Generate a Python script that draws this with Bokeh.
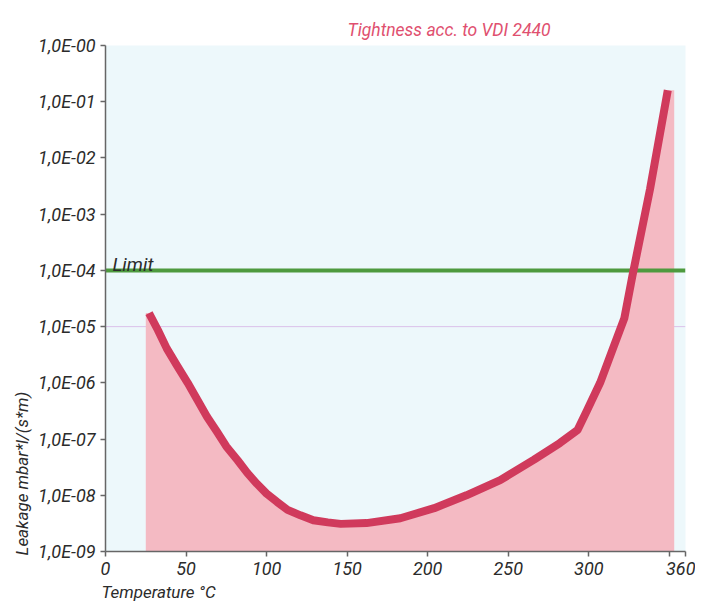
from bokeh.plotting import figure
from bokeh.models import (FixedTicker, CustomJSTickFormatter, Span, Label, Range1d, Title)
from bokeh.embed import file_html
from bokeh.resources import INLINE

# ---- data ----
temperature = [27, 32.5, 38, 44.5, 51, 57, 63, 69, 75, 82, 88, 94, 100, 106.5,
               113, 121, 129, 138, 146, 162, 183, 204, 224, 245, 266, 282,
               293, 299, 307, 315, 322, 327, 338, 349]
leakage = [1.74e-5, 8.7e-6, 4.1e-6, 2.0e-6, 1.0e-6, 5.0e-7, 2.5e-7, 1.38e-7,
           7.4e-8, 4.2e-8, 2.5e-8, 1.6e-8, 1.07e-8, 7.6e-9, 5.5e-9, 4.4e-9,
           3.6e-9, 3.3e-9, 3.1e-9, 3.2e-9, 3.9e-9, 5.9e-9, 1.0e-8, 1.86e-8,
           4.3e-8, 8.5e-8, 1.45e-7, 3.3e-7, 1.0e-6, 4.1e-6, 1.4e-5, 7.9e-5,
           2.8e-3, 1.6e-1]
fill_left = 25
fill_right = 353
limit = 1e-4
ref_line = 1e-5

x_min, x_max = 0, 360
y_min, y_max = 1e-9, 1e0

x_ticks = [0, 50, 100, 150, 200, 250, 300, 350, 360]
x_tick_labels = ["0", "50", "100", "150", "200", "250", "300", "", "360"]
y_ticks = [1e-9, 1e-8, 1e-7, 1e-6, 1e-5, 1e-4, 1e-3, 1e-2, 1e-1, 1e0]
y_tick_labels = ["1,0E-09", "1,0E-08", "1,0E-07", "1,0E-06", "1,0E-05",
                 "1,0E-04", "1,0E-03", "1,0E-02", "1,0E-01", "1,0E-00"]

title_text = "Tightness acc. to VDI 2440"
x_label = "Temperature °C"
y_label = "Leakage mbar*l/(s*m)"
limit_label = "Limit"

FONT = "Roboto"
TXT = "#2b2b2b"

p = figure(width=695, height=603, y_axis_type="log",
           x_range=Range1d(x_min, x_max), y_range=Range1d(y_min, y_max),
           output_backend="svg", toolbar_location=None,
           min_border_left=105, min_border_right=10,
           min_border_top=45, min_border_bottom=52,
           title=title_text)
p.background_fill_color = "#edf8fb"
p.border_fill_color = "white"
p.outline_line_color = None
p.grid.visible = False

p.title.text_font = FONT
p.title.text_font_style = "italic"
p.title.text_font_size = "17.5px"
p.title.text_color = "#e0506f"
p.title.align = "left"
p.title.offset = 242
p.title.standoff = 12

# faint reference line
p.add_layout(Span(location=ref_line, dimension="width", line_color="#dcc2ea",
                  line_width=1, level="image"))

# filled area under curve
fill_x = [fill_left] + temperature + [fill_right, fill_right, fill_left]
fill_y = [leakage[0]] + leakage + [leakage[-1], y_min, y_min]
p.patch(fill_x, fill_y, fill_color="#f4bac3", line_color=None)

# limit line
p.line([x_min, x_max], [limit, limit], line_color="#4e9a3e", line_width=4)

# curve
p.line(temperature, leakage, line_color="#d03a5c", line_width=8,
       line_cap="butt", line_join="round")

# axes
for ax in (p.xaxis, p.yaxis):
    ax.axis_line_color = "#666666"
    ax.axis_line_width = 1.5
    ax.major_tick_line_color = "#666666"
    ax.major_tick_line_width = 1.5
    ax.major_tick_out = 5
    ax.major_tick_in = 0
    ax.minor_tick_line_color = None
    ax.major_label_text_font = FONT
    ax.major_label_text_font_style = "italic"
    ax.major_label_text_font_size = "18px"
    ax.major_label_text_color = TXT

p.xaxis.ticker = FixedTicker(ticks=x_ticks)
p.xaxis.major_label_overrides = {t: l for t, l in zip(x_ticks, x_tick_labels)}
p.xaxis.major_label_standoff = 5

p.yaxis.ticker = FixedTicker(ticks=y_ticks)
p.yaxis.formatter = CustomJSTickFormatter(
    args=dict(yt=y_ticks, yl=y_tick_labels),
    code="""
    for (let i = 0; i < yt.length; i++) {
      if (Math.abs(Math.log10(yt[i]) - Math.log10(tick)) < 1e-6) return yl[i];
    }
    return "";
    """)
p.yaxis.major_label_standoff = 5

# axis titles, placed as side titles so they can start at the axis origin
p.add_layout(Title(text=x_label, align="left", offset=-4, standoff=4,
                   text_font=FONT, text_font_style="italic",
                   text_font_size="17px", text_color=TXT), "below")
p.add_layout(Title(text=y_label, align="left", offset=-4, standoff=8,
                   text_font=FONT, text_font_style="italic",
                   text_font_size="17px", text_color=TXT), "left")

# limit label (inside the plot)
p.add_layout(Label(x=4.3, y=limit, y_offset=6, text=limit_label,
                   text_font=FONT, text_font_style="italic",
                   text_font_size="19px", text_color=TXT,
                   text_baseline="alphabetic", text_align="left"))

open("out.html", "w").write(file_html(p, INLINE))
